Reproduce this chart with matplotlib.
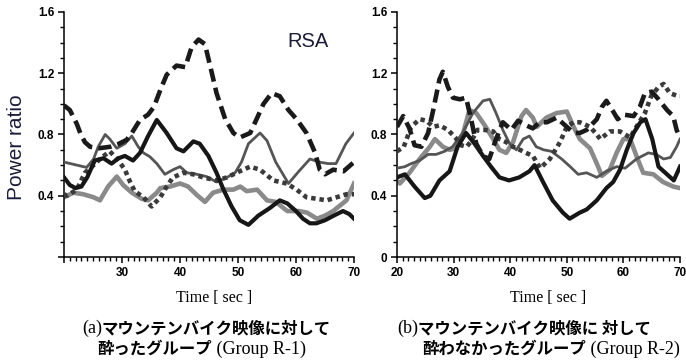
import matplotlib
matplotlib.use("Agg")
import matplotlib.pyplot as plt
from matplotlib.ticker import MultipleLocator, FixedLocator

plt.rcParams['lines.scale_dashes'] = False

# ---------------- data: panel (a) Group R-1 ----------------
a_black_t = [20, 21, 22, 23, 24, 25.3, 26.8, 28.2, 29.4, 30.5, 31.9, 33.1, 34.5, 36.0, 37.7, 39.4, 40.6, 42.3, 43.4, 44.9,
             46.3, 47.5, 48.9, 50.3, 51.8, 53.5, 55.5, 57.2, 58.5, 60.0, 61.2, 62.4, 63.5, 65.0, 66.5, 68.1, 69.2, 70]
a_black_v = [0.52, 0.47, 0.45, 0.46, 0.52, 0.63, 0.645, 0.61, 0.645, 0.66, 0.63, 0.68, 0.79, 0.895, 0.81, 0.71, 0.69, 0.755,
             0.74, 0.66, 0.55, 0.44, 0.33, 0.24, 0.21, 0.27, 0.32, 0.37, 0.35, 0.30, 0.25, 0.22, 0.22, 0.24, 0.27, 0.30, 0.28, 0.25]

a_dgray_t = [20, 22.2, 23.9, 25.1, 25.9, 27.1, 27.9, 29.1, 30.5, 31.7, 32.8, 33.7, 34.8, 36.0, 37.4, 38.8, 40.0, 41.2, 42.9,
             44.6, 46.3, 48.1, 49.5, 50.6, 51.8, 53.8, 55.0, 56.5, 58.7, 60.5, 62.4, 64.0, 65.5, 66.9, 68.6, 70]
a_dgray_v = [0.62, 0.60, 0.585, 0.64, 0.72, 0.80, 0.77, 0.71, 0.74, 0.79, 0.72, 0.68, 0.655, 0.61, 0.54, 0.57, 0.59, 0.55, 0.54,
             0.525, 0.49, 0.52, 0.55, 0.62, 0.74, 0.81, 0.76, 0.62, 0.48, 0.56, 0.64, 0.62, 0.61, 0.61, 0.74, 0.81]

a_lgray_t = [20, 21.6, 23.3, 25.1, 26.2, 27.6, 29.1, 30.2, 31.7, 33.4, 34.5, 36.0, 36.6, 38.3, 40.0, 41.4, 42.9, 44.3, 45.7,
             47.5, 49.2, 50.4, 51.5, 53.3, 55.0, 56.5, 58.5, 60.5, 61.9, 63.6, 65.0, 66.4, 68.7, 70]
a_lgray_v = [0.39, 0.42, 0.41, 0.39, 0.37, 0.46, 0.525, 0.47, 0.42, 0.38, 0.37, 0.42, 0.45, 0.46, 0.48, 0.46, 0.405, 0.36, 0.42,
             0.44, 0.44, 0.46, 0.43, 0.44, 0.37, 0.36, 0.30, 0.30, 0.29, 0.25, 0.27, 0.30, 0.37, 0.48]

a_dash_t = [20, 21.0, 22.2, 22.8, 23.6, 24.5, 26, 28, 29.5, 30.8, 31.7, 33.1, 34.5, 35.5, 36.6, 37.7, 39.4, 40.9, 42.0, 43.2,
            44.3, 45.5, 46.3, 47.8, 49.2, 50.3, 52.1, 53.2, 54.4, 55.8, 57.2, 58.7, 60.1, 61.8, 63.3, 64.1, 65.0, 66.4, 68.2, 70]
a_dash_v = [0.99, 0.96, 0.87, 0.81, 0.75, 0.72, 0.71, 0.72, 0.74, 0.765, 0.81, 0.895, 0.93, 0.98, 1.09, 1.19, 1.25, 1.24, 1.37,
            1.42, 1.39, 1.20, 1.07, 0.90, 0.81, 0.78, 0.81, 0.90, 1.00, 1.07, 1.05, 0.96, 0.90, 0.81, 0.68, 0.57, 0.54, 0.57, 0.56, 0.62]

a_dot_t = [20, 20.5, 22.2, 23.6, 25.1, 26.5, 27.9, 29.4, 30.5, 31.4, 32.2, 33.7, 35.1, 36.6, 37.7, 38.8, 40.6, 42.3, 44.0,
           46.3, 48.1, 50.3, 52.1, 53.8, 56.1, 58.4, 60.1, 61.8, 63.6, 65.3, 67.0, 68.7, 70]
a_dot_v = [0.41, 0.40, 0.44, 0.55, 0.60, 0.65, 0.69, 0.63, 0.57, 0.49, 0.43, 0.39, 0.33, 0.39, 0.46, 0.52, 0.55, 0.54, 0.52,
           0.50, 0.52, 0.56, 0.59, 0.57, 0.50, 0.48, 0.44, 0.39, 0.38, 0.37, 0.39, 0.41, 0.41]

# ---------------- data: panel (b) Group R-2 ----------------
b_black_t = [20, 21.4, 23.1, 24.9, 25.9, 27.5, 29.3, 30.7, 32.2, 33.7, 35.2, 36.6, 38.1, 39.8, 41.6, 43.4, 44.3, 45.8, 47.5,
             49.3, 50.5, 52.3, 53.5, 55.3, 57.0, 58.2, 59.4, 60.6, 61.8, 63.0, 63.9, 65.1, 66.2, 67.4, 68.9, 70]
b_black_v = [0.52, 0.54, 0.46, 0.385, 0.40, 0.50, 0.56, 0.72, 0.81, 0.74, 0.66, 0.59, 0.52, 0.50, 0.52, 0.56, 0.60, 0.49, 0.37,
             0.29, 0.25, 0.29, 0.31, 0.37, 0.45, 0.49, 0.57, 0.70, 0.81, 0.88, 0.90, 0.77, 0.59, 0.55, 0.50, 0.59]

b_dgray_t = [20, 21.4, 22.5, 24.0, 25.5, 26.9, 28.4, 29.8, 31.6, 33.4, 35.2, 36.4, 37.5, 38.7, 39.9, 41.1, 42.3, 43.4, 44.6,
             45.9, 47.3, 49.1, 50.6, 52.0, 53.5, 55.3, 57.0, 58.8, 60.3, 62.3, 64.4, 65.8, 67.1, 68.3, 69.4, 70]
b_dgray_v = [0.58, 0.59, 0.61, 0.63, 0.67, 0.67, 0.69, 0.72, 0.81, 0.94, 1.02, 1.03, 0.94, 0.83, 0.74, 0.70, 0.77, 0.79, 0.72,
             0.70, 0.69, 0.64, 0.59, 0.54, 0.55, 0.52, 0.56, 0.59, 0.58, 0.64, 0.68, 0.67, 0.64, 0.65, 0.72, 0.77]

b_lgray_t = [20, 20.5, 22.2, 24.0, 25.8, 26.7, 28.1, 29.3, 30.4, 31.7, 32.8, 34.0, 35.5, 37.0, 38.1, 39.3, 40.5, 42.0, 42.8,
             44.0, 44.7, 46.4, 48.2, 50.0, 51.2, 52.3, 54.1, 55.3, 56.2, 57.6, 58.8, 60.0, 61.2, 62.3, 63.5, 65.3, 67.0, 68.8, 70]
b_lgray_v = [0.50, 0.48, 0.55, 0.64, 0.72, 0.77, 0.72, 0.70, 0.71, 0.81, 0.96, 0.94, 0.86, 0.77, 0.70, 0.68, 0.75, 0.92, 0.96,
             0.91, 0.85, 0.91, 0.94, 0.95, 0.85, 0.77, 0.71, 0.61, 0.53, 0.57, 0.68, 0.77, 0.77, 0.66, 0.55, 0.54, 0.49, 0.46, 0.45]

b_dash_t = [20, 21.1, 22.2, 23.1, 24.3, 25.5, 26.4, 27.5, 28.1, 29.0, 29.9, 31.1, 32.2, 33.1, 34.0, 35.2, 36.3, 37.5, 38.7,
            40.2, 41.4, 42.8, 44.0, 45.2, 46.5, 48.2, 50.0, 51.2, 52.3, 53.5, 55.3, 56.2, 57.0, 58.2, 59.0, 60.0, 61.8, 62.9,
            63.8, 65.0, 66.2, 67.7, 68.8, 69.4, 70]
b_dash_v = [0.85, 0.92, 0.84, 0.73, 0.72, 0.81, 0.96, 1.16, 1.21, 1.11, 1.04, 1.03, 1.04, 0.90, 0.74, 0.66, 0.64, 0.77, 0.88,
            0.83, 0.89, 0.86, 0.84, 0.88, 0.88, 0.91, 0.85, 0.81, 0.81, 0.83, 0.90, 0.98, 1.02, 0.95, 0.90, 0.93, 0.92, 0.98,
            1.07, 1.08, 1.03, 0.96, 0.92, 0.83, 0.78]

b_dot_t = [20, 21.2, 22.5, 24.0, 25.2, 26.4, 27.5, 29.0, 30.3, 31.3, 32.3, 33.2, 34.2, 35.5, 37.0, 38.1, 39.3, 40.5, 41.7,
           42.8, 44.0, 45.3, 47.0, 48.8, 50.0, 51.2, 52.3, 54.1, 55.3, 55.9, 57.6, 59.4, 61.2, 62.3, 63.8, 64.9, 66.2, 67.1,
           68.2, 69.7, 70]
b_dot_v = [0.69, 0.72, 0.85, 0.90, 0.89, 0.85, 0.86, 0.83, 0.78, 0.73, 0.72, 0.76, 0.83, 0.83, 0.82, 0.77, 0.75, 0.72, 0.70,
           0.68, 0.66, 0.58, 0.64, 0.75, 0.85, 0.88, 0.88, 0.85, 0.80, 0.77, 0.82, 0.82, 0.78, 0.85, 0.94, 1.05, 1.11, 1.13,
           1.07, 1.05, 1.05]

x_major = [20, 30, 40, 50, 60, 70]
left_xlabels = ["", "30", "40", "50", "60", "70"]
right_xlabels = ["20", "30", "40", "50", "60", "70"]
y_major = [0, 0.4, 0.8, 1.2, 1.6]
left_ylabels = ["", "0.4", "0.8", "1.2", "1.6"]
right_ylabels = ["0", "0.4", "0.8", "1.2", "1.6"]

xlabel_text = "Time [ sec ]"
ylabel_text = "Power ratio"
title_text = "RSA"
cap_a1 = [("(a)", "serif"), ("マウンテンバイク映像に対して", "cjk")]
cap_a2 = [("酔ったグループ", "cjk"), (" (Group R-1)", "serif")]
cap_b1 = [("(b)", "serif"), ("マウンテンバイク映像に 対して", "cjk")]
cap_b2 = [("酔わなかったグループ", "cjk"), (" (Group R-2)", "serif")]

# ---------------- figure ----------------
W, H = 686, 363
fig = plt.figure(figsize=(W / 100, H / 100), dpi=100)
fig.patch.set_facecolor("white")

def px_axes(x0, x1, y_top, y_bot):
    return fig.add_axes([x0 / W, (H - y_bot) / H, (x1 - x0) / W, (y_bot - y_top) / H])

axL = px_axes(64, 354, 12, 257)
axR = px_axes(397, 680, 12, 257)

styles = {
    "lgray": dict(color="#8a8a8a", lw=3.3, solid_joinstyle="round", zorder=2),
    "dgray": dict(color="#555555", lw=2.0, solid_joinstyle="round", zorder=3),
    "dot": dict(color="#3a3a3a", lw=3.3, linestyle=(0, (3.2, 2.8)), dash_joinstyle="round", zorder=4),
    "black": dict(color="#161616", lw=3.0, solid_joinstyle="round", zorder=5),
    "dash": dict(color="#1a1a1a", lw=3.3, linestyle=(0, (9.5, 4.5)), dash_joinstyle="round", zorder=6),
}

def draw(ax, series, xlabels, ylabels):
    for key, t, v in series:
        ax.plot(t, v, **styles[key])
    ax.set_xlim(20, 70)
    ax.set_ylim(0, 1.6)
    for s in ("top", "right"):
        ax.spines[s].set_visible(False)
    for s in ("left", "bottom"):
        ax.spines[s].set_linewidth(1.1)
    ax.set_xticks(x_major)
    ax.set_xticklabels(xlabels)
    ax.set_yticks(y_major)
    ax.set_yticklabels(ylabels)
    ax.xaxis.set_minor_locator(MultipleLocator(1))
    ax.yaxis.set_minor_locator(MultipleLocator(0.1))
    ax.tick_params(which="major", direction="out", length=4, width=1.1, labelsize=8.5, pad=3)
    ax.tick_params(which="minor", direction="out", length=3, width=1.0)
    for lab in ax.get_xticklabels() + ax.get_yticklabels():
        lab.set_fontfamily("Liberation Sans")
        lab.set_fontweight("bold")
    ax.patch.set_alpha(0)

draw(axL, [("lgray", a_lgray_t, a_lgray_v), ("dgray", a_dgray_t, a_dgray_v), ("dot", a_dot_t, a_dot_v),
           ("black", a_black_t, a_black_v), ("dash", a_dash_t, a_dash_v)], left_xlabels, left_ylabels)
draw(axR, [("lgray", b_lgray_t, b_lgray_v), ("dgray", b_dgray_t, b_dgray_v), ("dot", b_dot_t, b_dot_v),
           ("black", b_black_t, b_black_v), ("dash", b_dash_t, b_dash_v)], right_xlabels, right_ylabels)

navy = "#1c1c3a"
fig.text(17 / W, (H - 147) / H, ylabel_text, rotation=90, ha="center", va="center",
         fontsize=15, family="Liberation Sans", color=navy)
fig.text(287 / W, (H - 47) / H, title_text, ha="left", va="baseline",
         fontsize=14.5, family="Liberation Sans", color=navy)

for cx in (214, 548):
    fig.text(cx / W, (H - 302) / H, xlabel_text, ha="center", va="baseline",
             fontsize=11.5, family="Liberation Serif", color="black")

renderer = fig.canvas.get_renderer()
props = {
    "serif": dict(family=["Liberation Serif", "Noto Sans CJK JP"], fontsize=13, fontweight="normal"),
    "cjk": dict(family=["Noto Sans CJK JP", "DejaVu Sans"], fontsize=11.8, fontweight="bold"),
}

def runs(x, y, parts):
    for s, kind in parts:
        t = fig.text(x / W, (H - y) / H, s, ha="left", va="baseline", color="black", **props[kind])
        bb = t.get_window_extent(renderer)
        x += bb.width

runs(82, 333, cap_a1)
runs(97, 354, cap_a2)
runs(397, 333, cap_b1)
runs(422, 354, cap_b2)

fig.savefig("out.png", dpi=100, facecolor="white")
